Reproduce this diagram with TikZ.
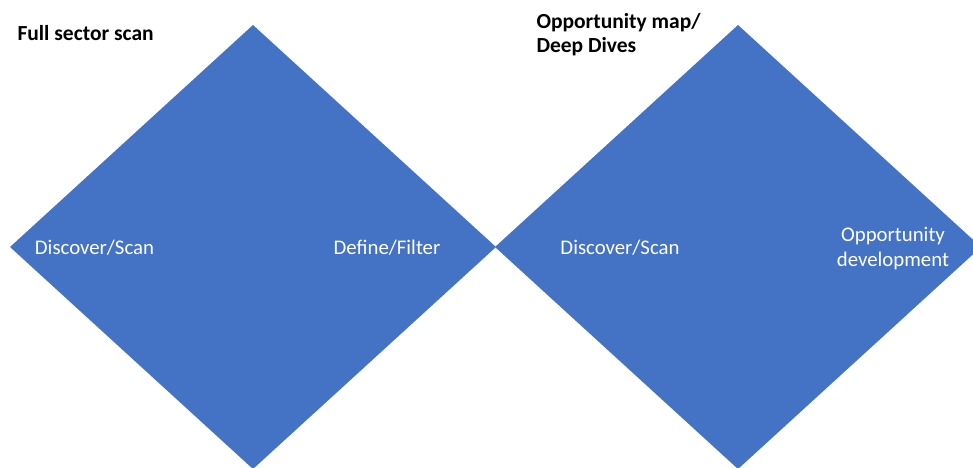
\documentclass[tikz,border=0pt]{standalone}
\usepackage{fontspec}
\setmainfont{Carlito}
\usetikzlibrary{positioning}
\definecolor{officeblue}{RGB}{68,114,196}

\begin{document}
\begin{tikzpicture}[x=1pt,y=-1pt,
    phase/.style={text=white,font=\fontsize{20.8}{25}\selectfont,align=center},
    heading/.style={anchor=west,font=\fontsize{21.5}{24}\selectfont\bfseries,align=left}]
  \useasboundingbox (0,0) rectangle (973,467);
  \clip (0,0) rectangle (973,467);
  % the two diamonds
  \foreach \c/\n in {253/left, 738/right}
  {
    \coordinate (\n-w) at (\c-243,247);
    \coordinate (\n-n) at (\c,25);
    \coordinate (\n-e) at (\c+243,247);
    \coordinate (\n-s) at (\c,469);
    \fill[officeblue] (\n-w) -- (\n-n) -- (\n-e) -- (\n-s) -- cycle;
  }
  % phase labels
  \node[phase] (scanA) at (94.5,248) {Discover/Scan};
  \node[phase] (filter) at (387,248) {Define/Filter};
  \node[phase] (scanB) at (620,248) {Discover/Scan};
  \node[phase] (develop) at (893,249) {Opportunity\\development};
  % headings
  \node[heading] (sector) at (14,33) {Full sector scan};
  \node[heading] (oppmap) at (533,35) {Opportunity map/\\Deep Dives};
\end{tikzpicture}
\end{document}
